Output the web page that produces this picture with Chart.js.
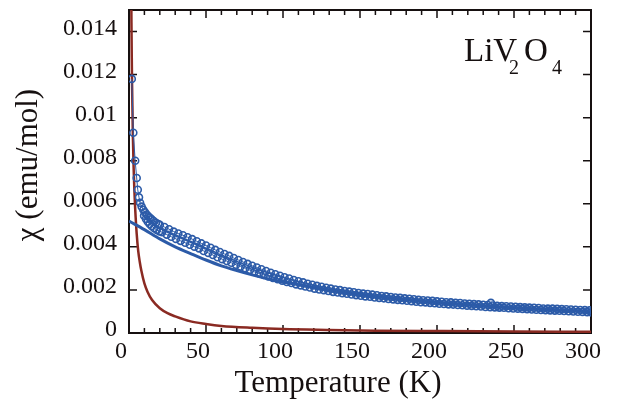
<!DOCTYPE html>
<html>
<head>
<meta charset="utf-8">
<script src="https://cdn.jsdelivr.net/npm/chart.js@4"></script>
<style>
  html, body { margin: 0; padding: 0; background: #fff; }
  canvas { display: block; }
</style>
</head>
<body>
<canvas id="chart" width="623" height="403"></canvas>
<script>
// measured chi(T), read off the figure. The measured band is two points wide,
// so it is kept as an upper run and a lower run.
const upperT = [
  1.8, 2.8, 4, 5, 5.7, 6.5, 7.2, 8.2, 9.3, 10.4, 11.5, 12.5, 13.6, 14.7, 16, 17.5, 19,
  20, 23, 26, 29, 32, 35, 38, 41, 44, 47, 50, 53, 56, 59, 62, 65, 68, 71, 74, 77,
  80, 83, 86, 89, 92, 95, 98, 101, 104, 107, 110, 113, 116, 119, 122, 125, 128, 131, 134, 137,
  140, 143, 146, 149, 152, 155, 158, 161, 164, 167, 170, 173, 176, 179, 182, 185, 188, 191, 194, 197,
  200, 203, 206, 209, 212, 215, 218, 221, 224, 227, 230, 233, 236, 239, 242, 245, 248, 251, 254, 257,
  260, 263, 266, 269, 272, 275, 278, 281, 284, 287, 290, 293, 296, 299
];
const upperChi = [
  0.0118, 0.0093, 0.0080, 0.0072, 0.00665, 0.0063, 0.00605, 0.00587, 0.00572, 0.0056, 0.0055, 0.00542,
  0.00535, 0.00528, 0.0052, 0.00512, 0.00506,
  0.00502, 0.00492, 0.00482, 0.00471, 0.00462, 0.00454, 0.00445, 0.00436, 0.00426, 0.00416,
  0.00406, 0.00396, 0.00386, 0.00376, 0.00367, 0.00358, 0.00348, 0.00339, 0.0033, 0.00321,
  0.00312, 0.00304, 0.00296, 0.00288, 0.0028, 0.00273, 0.00266, 0.00259, 0.00253, 0.00246,
  0.0024, 0.00235, 0.00229, 0.00224, 0.00219, 0.00215, 0.0021, 0.00206, 0.00202, 0.00199,
  0.00195, 0.00192, 0.00189, 0.00186, 0.00183, 0.00181, 0.00178, 0.00175, 0.00172, 0.0017,
  0.00167, 0.00165, 0.00163, 0.00161, 0.00159, 0.00157, 0.00154, 0.00152, 0.00151, 0.00149,
  0.00147, 0.00145, 0.00143, 0.00142, 0.0014, 0.00139, 0.00137, 0.00136, 0.00134, 0.00133,
  0.00131, 0.0013, 0.00128, 0.00126, 0.00125, 0.00124, 0.00123, 0.00122, 0.0012, 0.00119,
  0.00118, 0.00117, 0.00116, 0.00114, 0.00113, 0.00113, 0.00112, 0.00111, 0.0011, 0.00109,
  0.00108, 0.00107, 0.00106, 0.00105
];
const lowerT = [
  9.8, 11, 12.2, 13.4, 14.8, 16.4, 18, 19.8,
  21.5, 24.5, 27.5, 30.5, 33.5, 36.5, 39.5, 42.5, 45.5, 48.5, 51.5, 54.5, 57.5, 60.5, 63.5, 66.5, 69.5,
  72.5, 75.5, 78.5, 81.5, 84.5, 87.5, 90.5, 93.5, 96.5, 99.5, 102.5, 105.5, 108.5, 111.5, 114.5, 117.5,
  120.5, 123.5, 126.5, 129.5, 132.5, 135.5, 138.5, 141.5, 144.5, 147.5, 150.5, 153.5, 156.5, 159.5,
  162.5, 165.5, 168.5, 171.5, 174.5, 177.5, 180.5, 183.5, 186.5, 189.5, 192.5, 195.5, 198.5, 201.5,
  204.5, 207.5, 210.5, 213.5, 216.5, 219.5, 222.5, 225.5, 228.5, 231.5, 234.5, 237.5, 240.5, 243.5,
  246.5, 249.5, 252.5, 255.5, 258.5, 261.5, 264.5, 267.5, 270.5, 273.5, 276.5, 279.5, 282.5, 285.5,
  288.5, 291.5, 294.5, 297.5, 300
];
const lowerChi = [
  0.00545, 0.0053, 0.00517, 0.00506, 0.00496, 0.00487, 0.00479, 0.00472,
  0.00468, 0.00457, 0.00447, 0.00437, 0.00428, 0.00419, 0.0041, 0.00401, 0.00393, 0.00381, 0.00372,
  0.00362, 0.00352, 0.00343, 0.00334, 0.00326, 0.00317,
  0.00309, 0.00301, 0.00292, 0.00284, 0.00277, 0.0027, 0.00263, 0.00256, 0.0025, 0.00243, 0.00237,
  0.00232, 0.00226, 0.00221, 0.00216, 0.00211,
  0.00206, 0.00202, 0.00199, 0.00195, 0.00191, 0.00188, 0.00185, 0.00182, 0.00179, 0.00176, 0.00173,
  0.0017, 0.00168, 0.00165, 0.00163, 0.00161, 0.00158, 0.00156, 0.00154, 0.00152, 0.0015, 0.00148,
  0.00145, 0.00143, 0.00142, 0.0014, 0.00138, 0.00136, 0.00135, 0.00133, 0.00132, 0.0013, 0.00129,
  0.00127, 0.00126, 0.00124, 0.00123, 0.00121, 0.0012, 0.00119, 0.00118, 0.00117, 0.00115, 0.00114,
  0.00113, 0.00112, 0.00111, 0.00109, 0.00108, 0.00107, 0.00106, 0.00105, 0.00104, 0.00103, 0.00102,
  0.00101, 0.001, 0.00099, 0.00098, 0.00097, 0.00096
];
// one stray point near 235 K
const strayT = [235];
const strayChi = [0.0014];

// intrinsic part (blue line)
const fitT = [0, 10, 20, 30, 40, 50, 60, 70, 80, 90, 100, 110, 120, 140, 160, 180, 200, 220, 240, 260, 280, 300];
const fitChi = [0.0052, 0.0048, 0.00437, 0.004, 0.00369, 0.00339, 0.00312, 0.0029, 0.0027, 0.00252, 0.00237,
  0.00224, 0.00211, 0.00189, 0.0017, 0.00155, 0.00141, 0.00131, 0.00121, 0.00113, 0.00106, 0.00099];

// impurity Curie term (red line)
const impT = [1.4, 1.6, 1.8, 2, 2.5, 3, 3.5, 4, 5, 6, 7, 8, 10, 12, 15, 20, 25, 30, 40, 50, 60, 80, 100, 130, 160, 200, 250, 300];
const impChi = [0.0165, 0.0144, 0.0128, 0.0115, 0.0092, 0.0077, 0.0066, 0.0058, 0.0046, 0.0038, 0.0033, 0.0029,
  0.0023, 0.00192, 0.00153, 0.00115, 0.00092, 0.00077, 0.00054, 0.00042, 0.00033, 0.00024, 0.00018, 0.00014,
  0.00011, 0.00009, 0.00007, 0.00006];

const yTicks = [0, 0.002, 0.004, 0.006, 0.008, 0.01, 0.012, 0.014];

const blue = '#2c5ba8';
const red = '#8a2a22';
const ink = '#161010';
const serif = '"Liberation Serif", "DejaVu Serif", serif';

const pts = (xs, ys) => xs.map((x, i) => ({ x: x, y: ys[i] }));

const framePlugin = {
    id: 'frame',
    beforeDatasetsDraw(chart) {
        const ctx = chart.ctx;
        const xs = chart.scales.x, ys = chart.scales.y;
        const { left, right, top, bottom } = chart.chartArea;
        ctx.save();
        ctx.strokeStyle = ink;
        ctx.lineWidth = 1.5;
        ctx.beginPath();
        for (let t = 0; t <= 300; t += 10) {
            const px = xs.getPixelForValue(t);
            const len = t % 50 === 0 ? 8 : 5;
            ctx.moveTo(px, bottom); ctx.lineTo(px, bottom - len);
            ctx.moveTo(px, top); ctx.lineTo(px, top + len);
        }
        yTicks.forEach(v => {
            const py = ys.getPixelForValue(v);
            ctx.moveTo(left, py); ctx.lineTo(left + 8, py);
            ctx.moveTo(right, py); ctx.lineTo(right - 8, py);
        });
        ctx.stroke();
        ctx.lineWidth = 2;
        ctx.strokeRect(left, top, right - left, bottom - top);
        ctx.restore();
    },
    afterDraw(chart) {
        const ctx = chart.ctx;
        ctx.save();
        ctx.fillStyle = ink;
        ctx.textBaseline = 'alphabetic';

        ctx.font = '31px ' + serif;
        ctx.textAlign = 'center';
        ctx.fillText('Temperature (K)', 338, 392);

        ctx.save();
        ctx.translate(37, 165);
        ctx.rotate(-Math.PI / 2);
        ctx.fillText('\u03c7 (emu/mol)', 0, 0);
        ctx.restore();

        ctx.textAlign = 'left';
        ctx.font = '33px ' + serif;
        ctx.fillText('LiV', 464, 61);
        ctx.fillText('O', 524, 61);
        ctx.font = '20px ' + serif;
        ctx.fillText('2', 509, 74);
        ctx.fillText('4', 552, 74);
        ctx.restore();
    }
};

const circles = {
    showLine: true,
    borderColor: blue,
    borderWidth: 1,
    pointRadius: 3.5,
    pointBorderWidth: 1.6,
    pointBorderColor: blue,
    pointBackgroundColor: 'rgba(255,255,255,0)'
};

new Chart(document.getElementById('chart'), {
    type: 'scatter',
    data: {
        datasets: [
            Object.assign({}, circles, { label: 'stray', data: pts(strayT, strayChi), showLine: false, order: 0 }),
            Object.assign({}, circles, { label: 'upper run', data: pts(upperT, upperChi), order: 1 }),
            Object.assign({}, circles, { label: 'lower run', data: pts(lowerT, lowerChi), order: 1 }),
            {
                label: 'intrinsic',
                data: pts(fitT, fitChi),
                showLine: true,
                borderColor: blue,
                borderWidth: 3,
                pointRadius: 0,
                cubicInterpolationMode: 'monotone',
                order: 2
            },
            {
                label: 'impurity',
                data: pts(impT, impChi),
                showLine: true,
                borderColor: red,
                borderWidth: 2.5,
                pointRadius: 0,
                cubicInterpolationMode: 'monotone',
                order: 3
            }
        ]
    },
    options: {
        responsive: false,
        animation: false,
        layout: { padding: { left: 0, right: 32, top: 10, bottom: 0 } },
        plugins: {
            legend: { display: false },
            tooltip: { enabled: false }
        },
        scales: {
            x: {
                type: 'linear',
                min: 0,
                max: 300,
                grid: { display: false, drawTicks: false },
                border: { display: false },
                ticks: {
                    stepSize: 50,
                    padding: 4,
                    labelOffset: -8,
                    maxRotation: 0,
                    color: ink,
                    font: { family: serif, size: 24 }
                },
                afterFit(scale) {
                    scale.height = 70;
                    scale.paddingLeft = 0;
                    scale.paddingRight = 0;
                }
            },
            y: {
                type: 'linear',
                min: 0,
                max: 0.015,
                grid: { display: false, drawTicks: false },
                border: { display: false },
                afterBuildTicks(axis) { axis.ticks = yTicks.map(v => ({ value: v })); },
                ticks: {
                    padding: 12,
                    labelOffset: -3,
                    color: ink,
                    font: { family: serif, size: 24 },
                    callback: v => v === 0 ? '0' : String(parseFloat(v.toFixed(3)))
                },
                afterFit(scale) {
                    scale.width = 129;
                    scale.paddingTop = 0;
                    scale.paddingBottom = 0;
                }
            }
        }
    },
    plugins: [framePlugin]
});
</script>
</body>
</html>
